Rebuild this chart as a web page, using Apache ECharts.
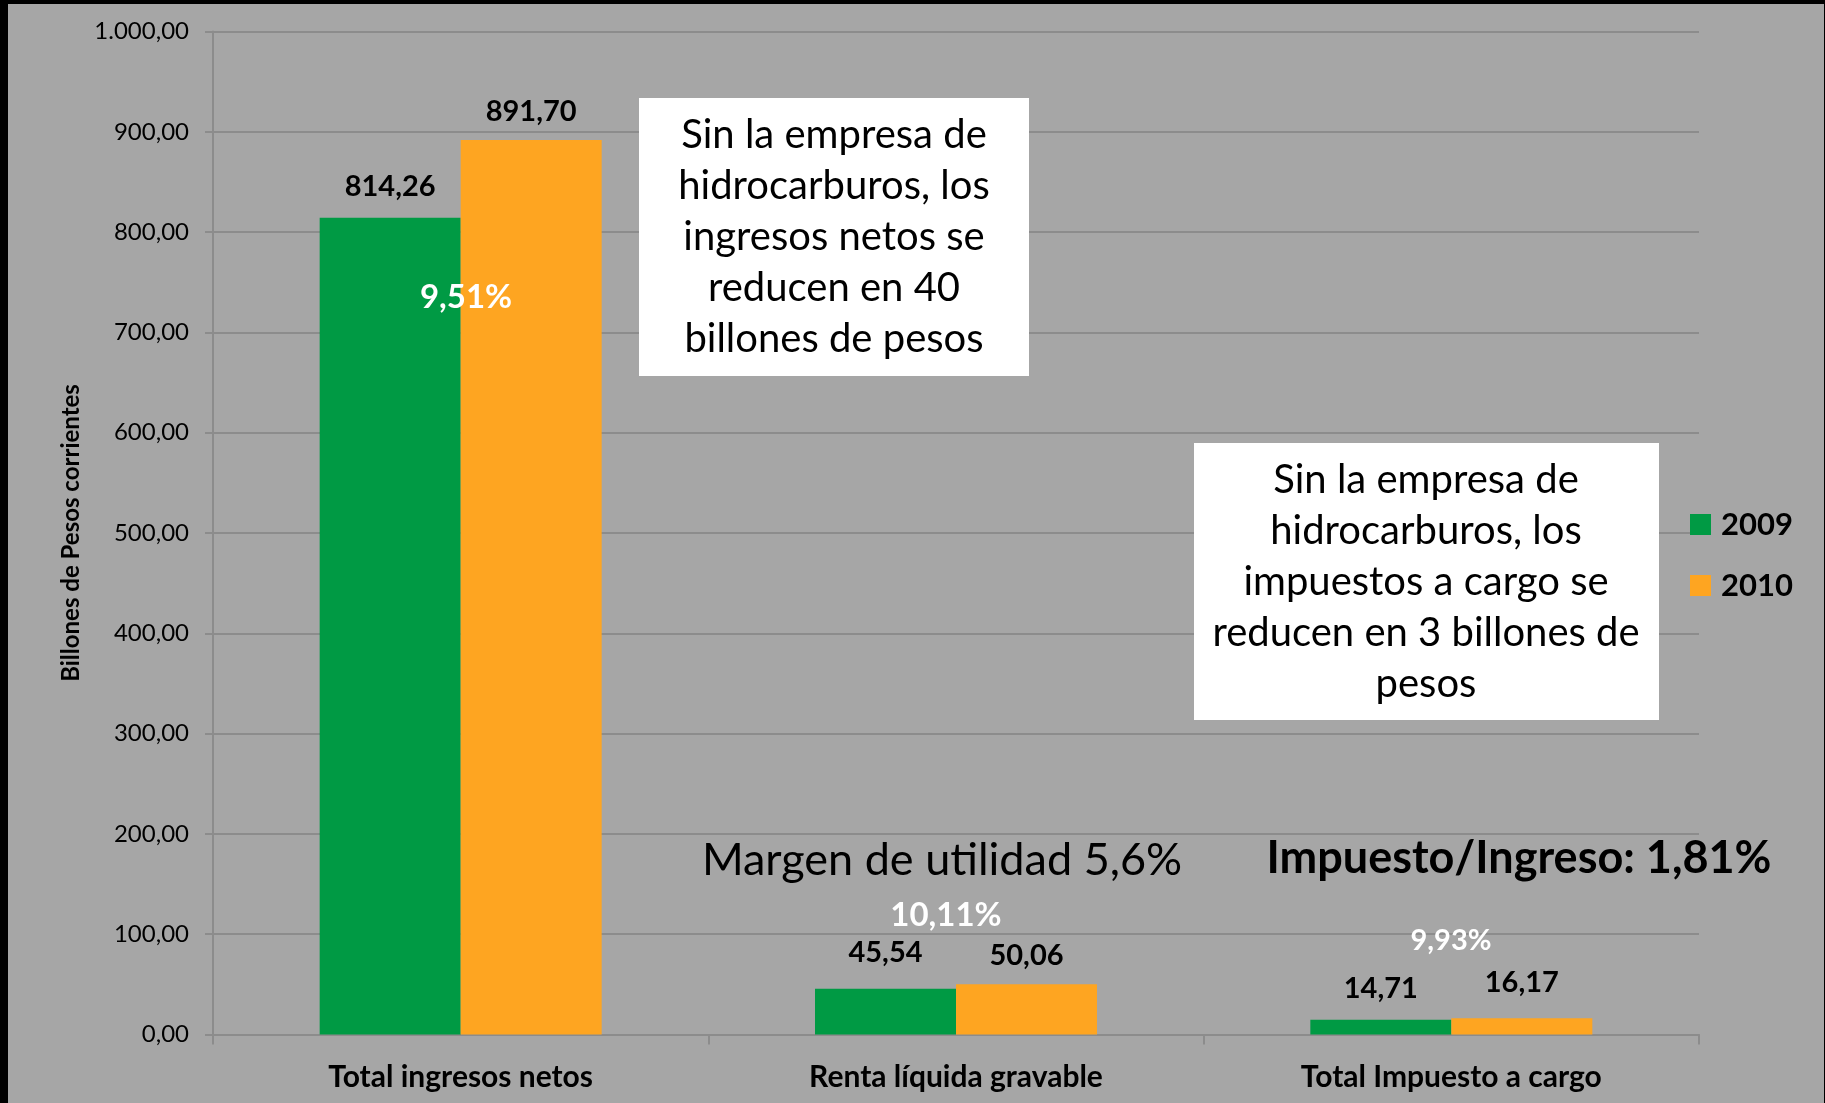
<!DOCTYPE html>
<html>
<head>
<meta charset="utf-8">
<script src="https://cdn.jsdelivr.net/npm/echarts@6/dist/echarts.min.js"></script>
<style>
  html, body { margin: 0; padding: 0; background: #000; }
  #chart { width: 1825px; height: 1103px; }
</style>
</head>
<body>
<div id="chart"></div>
<script>
// datos
const categories = ['Total ingresos netos', 'Renta líquida gravable', 'Total Impuesto a cargo']
const years = ['2009', '2010']
const values2009 = [814.26, 45.54, 14.71]
const values2010 = [891.70, 50.06, 16.17]
const growthLabels = ['9,51%', '10,11%', '9,93%']
const yTicks = { min: 0, max: 1000, interval: 100 }

const FONT = 'Lato'
const GREEN = '#009a44'
const ORANGE = '#fea521'
const GRID = '#8c8c8c'

// distancia de cada etiqueta sobre su barra (px)
const lift2009 = [17, 22, 17]
const lift2010 = [14, 14, 21]

function fmt(v) {
  const parts = v.toFixed(2).split('.')
  const ent = parts[0].replace(/\B(?=(\d{3})+(?!\d))/g, '.')
  return ent + ',' + parts[1]
}

function buildSeries(name, vals, lifts, color) {
  return {
    name: name,
    type: 'bar',
    barWidth: 141,
    barGap: '0%',
    itemStyle: { color: color },
    label: {
      show: true,
      position: 'top',
      fontFamily: FONT,
      fontWeight: 'bold',
      fontSize: 29,
      color: '#000',
      formatter: p => fmt(p.value)
    },
    data: vals.map((v, i) => ({ value: v, label: { distance: lifts[i] } }))
  }
}

const chart = echarts.init(document.getElementById('chart'))

const boxText1 = 'Sin la empresa de\nhidrocarburos, los\ningresos netos se\nreducen en 40\nbillones de pesos'
const boxText2 = 'Sin la empresa de\nhidrocarburos, los\nimpuestos a cargo se\nreducen en 3 billones de\npesos'

chart.setOption({
  backgroundColor: '#a6a6a6',
  animation: false,
  textStyle: { fontFamily: FONT },
  grid: { left: 213, right: 126, top: 31.5, bottom: 68.5, containLabel: false },
  legend: {
    data: years,
    orient: 'vertical',
    left: 1685,
    top: 504,
    itemWidth: 21,
    itemHeight: 21,
    itemGap: 30,
    icon: 'rect',
    textStyle: { fontFamily: FONT, fontWeight: 'bold', fontSize: 31, color: '#000', padding: [0, 0, 0, 5] }
  },
  xAxis: {
    type: 'category',
    data: categories,
    axisLine: { lineStyle: { color: GRID, width: 2 } },
    axisTick: { show: true, length: 10, lineStyle: { color: GRID, width: 2 } },
    axisLabel: { fontFamily: FONT, fontWeight: 'bold', fontSize: 30, color: '#000', margin: 28 }
  },
  yAxis: {
    type: 'value',
    min: yTicks.min,
    max: yTicks.max,
    interval: yTicks.interval,
    name: 'Billones de Pesos corrientes',
    nameLocation: 'middle',
    nameRotate: 90,
    nameGap: 128,
    nameTextStyle: { fontFamily: FONT, fontWeight: 'bold', fontSize: 24, color: '#000' },
    axisLine: { show: true, lineStyle: { color: GRID, width: 2 } },
    axisTick: { show: true, length: 8, lineStyle: { color: GRID, width: 2 } },
    splitLine: { lineStyle: { color: GRID, width: 2 } },
    axisLabel: { fontFamily: FONT, fontSize: 24, color: '#000', margin: 24, formatter: v => fmt(v) }
  },
  series: [
    buildSeries(years[0], values2009, lift2009, GREEN),
    buildSeries(years[1], values2010, lift2010, ORANGE)
  ],
  graphic: [
    // marco negro
    { type: 'rect', shape: { x: 0, y: 0, width: 8, height: 1103 }, style: { fill: '#000' }, z: 100 },
    { type: 'rect', shape: { x: 0, y: 0, width: 1825, height: 4 }, style: { fill: '#000' }, z: 100 },
    { type: 'rect', shape: { x: 1824, y: 0, width: 1, height: 1103 }, style: { fill: '#000' }, z: 100 },
    // cuadros de texto
    { type: 'rect', shape: { x: 639, y: 98, width: 390, height: 278 }, style: { fill: '#fff' }, z: 50 },
    {
      type: 'text', x: 834, y: 237, z: 51,
      style: { text: boxText1, fontFamily: FONT, fontSize: 40, lineHeight: 51, fill: '#000', align: 'center', verticalAlign: 'middle' }
    },
    { type: 'rect', shape: { x: 1194, y: 443, width: 465, height: 277 }, style: { fill: '#fff' }, z: 50 },
    {
      type: 'text', x: 1426, y: 582, z: 51,
      style: { text: boxText2, fontFamily: FONT, fontSize: 40, lineHeight: 51, fill: '#000', align: 'center', verticalAlign: 'middle' }
    },
    {
      type: 'text', x: 942, y: 860, z: 51,
      style: { text: 'Margen de utilidad 5,6%', fontFamily: FONT, fontSize: 45, fill: '#000', align: 'center', verticalAlign: 'middle' }
    },
    {
      type: 'text', x: 1519, y: 858, z: 51,
      style: { text: 'Impuesto/Ingreso: 1,81%', fontFamily: FONT, fontWeight: 'bold', fontSize: 45, fill: '#000', align: 'center', verticalAlign: 'middle' }
    },
    // variaciones
    {
      type: 'text', x: 466, y: 297, z: 51,
      style: { text: growthLabels[0], fontFamily: FONT, fontWeight: 'bold', fontSize: 33, fill: '#fff', align: 'center', verticalAlign: 'middle' }
    },
    {
      type: 'text', x: 946, y: 915, z: 51,
      style: { text: growthLabels[1], fontFamily: FONT, fontWeight: 'bold', fontSize: 33, fill: '#fff', align: 'center', verticalAlign: 'middle' }
    },
    {
      type: 'text', x: 1451, y: 941, z: 51,
      style: { text: growthLabels[2], fontFamily: FONT, fontWeight: 'bold', fontSize: 29, fill: '#fff', align: 'center', verticalAlign: 'middle' }
    }
  ]
})
</script>
</body>
</html>
